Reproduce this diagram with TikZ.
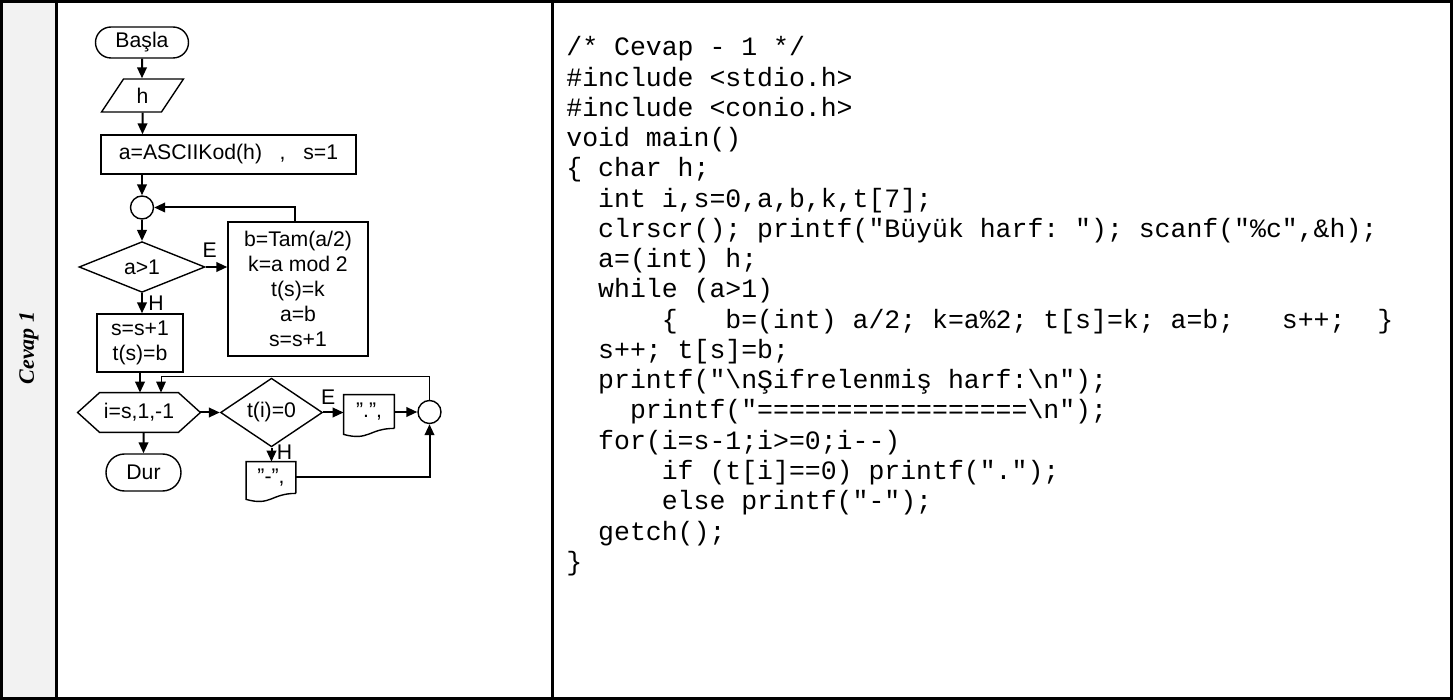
\documentclass[tikz,border=0pt]{standalone}
\usepackage{fontspec}
\setmainfont{Liberation Serif}
\setsansfont{Liberation Sans}
\setmonofont{Liberation Mono}
\usetikzlibrary{arrows.meta,shapes.geometric,shapes.misc,calc}
\definecolor{ink}  {HTML}{000000}
\definecolor{strip}{HTML}{F2F2F2}
\newcommand\spc[1]{\hspace*{#1\dimexpr 0.6em\relax}}
\tikzset{
  >={Triangle[length=5.5pt,width=4.8pt]},
  every node/.style={font=\sffamily\fontsize{10.6}{12.5}\selectfont},
  % --- nodes
  shp/.style  = {draw=ink, line width=0.7pt},
  proc/.style = {shp, rectangle, inner sep=0pt, align=center},
  term/.style = {shp, rounded rectangle, inner sep=0pt, minimum width=46.5pt, minimum height=15.5pt},
  io/.style   = {shp, trapezium, trapezium left angle=66, trapezium right angle=114,
                 trapezium stretches=true, inner sep=0pt, minimum width=41pt, minimum height=16.5pt},
  dec/.style  = {shp, diamond, inner sep=0pt, minimum height=25pt},
  conn/.style = {shp, circle, inner sep=0pt, minimum size=11.5pt},
  hexa/.style = {inner sep=0pt, minimum width=61pt, minimum height=19.5pt},
  doc/.style  = {inner sep=0pt},
  lbl/.style  = {inner sep=0pt},
  side/.style = {rotate=90, font=\rmfamily\bfseries\itshape\fontsize{11}{13}\selectfont},
  src/.style  = {anchor=base west, inner sep=0pt, font=\ttfamily\fontsize{13.25}{15}\selectfont},
  frame/.style= {draw=ink, line width=1.5pt},
  % --- edges
  e/.style     = {->, line width=1pt, draw=ink},
  eback/.style = {e, line width=0.5pt},
}
\begin{document}
\begin{tikzpicture}[x=0.5pt,y=-0.5pt]
  \useasboundingbox (0,0) rectangle (1453,700);
  % frame
  \fill[strip] (0,0) rectangle (56,700);
  \draw[frame] (1.5,1.5) rectangle (1451.5,698);
  \draw[frame] (56.5,0) -- (56.5,700);
  \draw[frame] (552.5,0) -- (552.5,700);
  \node[side] (tag) at (29,348) {Cevap 1};

  % flowchart
  \node[term] (basla) at (142,42.5) {Başla};
  \node[io] (inp) at (142.5,95.5) {h};
  \node[proc, minimum width=127.5pt, minimum height=19.5pt] (init) at (228.5,154.5) {a=ASCIIKod(h)\ \ \ ,\ \ \ s=1};
  \node[conn] (j1) at (142,207.5) {};
  \node[dec, minimum width=63pt] (test) at (142,267) {a>1};
  \node[proc, minimum width=70pt, minimum height=67pt] (body) at (298,289) {b=Tam(a/2)\\k=a mod 2\\t(s)=k\\a=b\\s=s+1};
  \node[proc, minimum width=43pt, minimum height=29pt] (last) at (140,343) {s=s+1\\t(s)=b};
  \node[hexa] (loop) at (139,412.5) {i=s,1,-1};
  \node[dec, minimum width=51pt] (bit) at (271.5,412.5) {t(i)=0};
  \node[doc, minimum width=25pt, minimum height=16.5pt] (dot) at (369,411.5) {".",};
  \node[conn] (j2) at (429.5,412) {};
  \node[doc, minimum width=24.5pt, minimum height=15.5pt] (dash) at (271,477.5) {"-",};
  \node[term, minimum width=37.5pt, minimum height=18.5pt] (dur) at (143.5,472.5) {Dur};
  \coordinate (back) at (161,377);

  \draw[shp] (loop.west) -- ([xshift=11pt]loop.north west) -- ([xshift=-11pt]loop.north east) -- (loop.east)
    -- ([xshift=-11pt]loop.south east) -- ([xshift=11pt]loop.south west) -- cycle;
  \foreach \d in {dot,dash}
    \draw[shp] (\d.south east) -- (\d.north east) -- (\d.north west) -- ([yshift=-3pt]\d.south west)
      .. controls ([yshift=-6.5pt]\d.south) and (\d.south) .. (\d.south east);

  \node[lbl] (e1) at ([xshift=2pt,yshift=8.5pt]test.east) {E};
  \node[lbl] (h1) at ([xshift=7pt,yshift=-5pt]test.south) {H};
  \node[lbl] (e2) at ([xshift=2.5pt,yshift=7.5pt]bit.east) {E};
  \node[lbl] (h2) at ([xshift=6.5pt,yshift=-2.5pt]bit.south) {H};

  \draw[e] (basla) -- (basla |- inp.north);
  \draw[e] (inp) -- (inp |- init.north);
  \draw[e] (j1 |- init.south) -- (j1);
  \draw[e] (j1) -- (test);
  \draw[e] (test.east) -- (test.east -| body.west);
  \draw[e] ([xshift=-1.5pt]body.north) |- (j1);
  \draw[e] (test.south) -- (test.south |- last.north);
  \draw[e] (last.south) -- (last.south |- loop.north);
  \draw[e] (loop) -- (bit);
  \draw[e] (bit.east) -- (bit.east -| dot.west);
  \draw[e] (dot.east |- j2) -- (j2);
  \draw[e] (bit.south) -- (bit.south |- dash.north);
  \draw[e] (dash.east) -| (j2);
  \draw[eback] (j2) |- (back) -- (back |- loop.north);
  \draw[e] (loop.south -| dur) -- (dur);

  % source code
  \node[src] (l1)  at (566,56)     {/* Cevap - 1 */};
  \node[src] (l2)  at (566,86.25)  {\#include <stdio.h>};
  \node[src] (l3)  at (566,116.5)  {\#include <conio.h>};
  \node[src] (l4)  at (566,146.75) {void main()};
  \node[src] (l5)  at (566,177)    {\{ char h;};
  \node[src] (l6)  at (566,207.25) {\spc{2}int i,s=0,a,b,k,t[7];};
  \node[src] (l7)  at (566,237.5)  {\spc{2}clrscr(); printf("Büyük harf: "); scanf("\%c",\&h);};
  \node[src] (l8)  at (566,267.75) {\spc{2}a=(int) h;};
  \node[src] (l9)  at (566,298)    {\spc{2}while (a>1)};
  \node[src] (l10) at (566,328.25) {\spc{6}\{\spc{3}b=(int) a/2; k=a\%2; t[s]=k; a=b;\spc{3}s++;\spc{2}\}};
  \node[src] (l11) at (566,358.5)  {\spc{2}s++; t[s]=b;};
  \node[src] (l12) at (566,388.75) {\spc{2}printf("\textbackslash nŞifrelenmiş harf:\textbackslash n");};
  \node[src] (l13) at (566,419)    {\spc{4}printf("=================\textbackslash n");};
  \node[src] (l14) at (566,449.25) {\spc{2}for(i=s-1;i>=0;i-{}-)};
  \node[src] (l15) at (566,479.5)  {\spc{6}if (t[i]==0) printf(".");};
  \node[src] (l16) at (566,509.75) {\spc{6}else printf("-");};
  \node[src] (l17) at (566,540)    {\spc{2}getch();};
  \node[src] (l18) at (566,570.25) {\}};
\end{tikzpicture}
\end{document}
